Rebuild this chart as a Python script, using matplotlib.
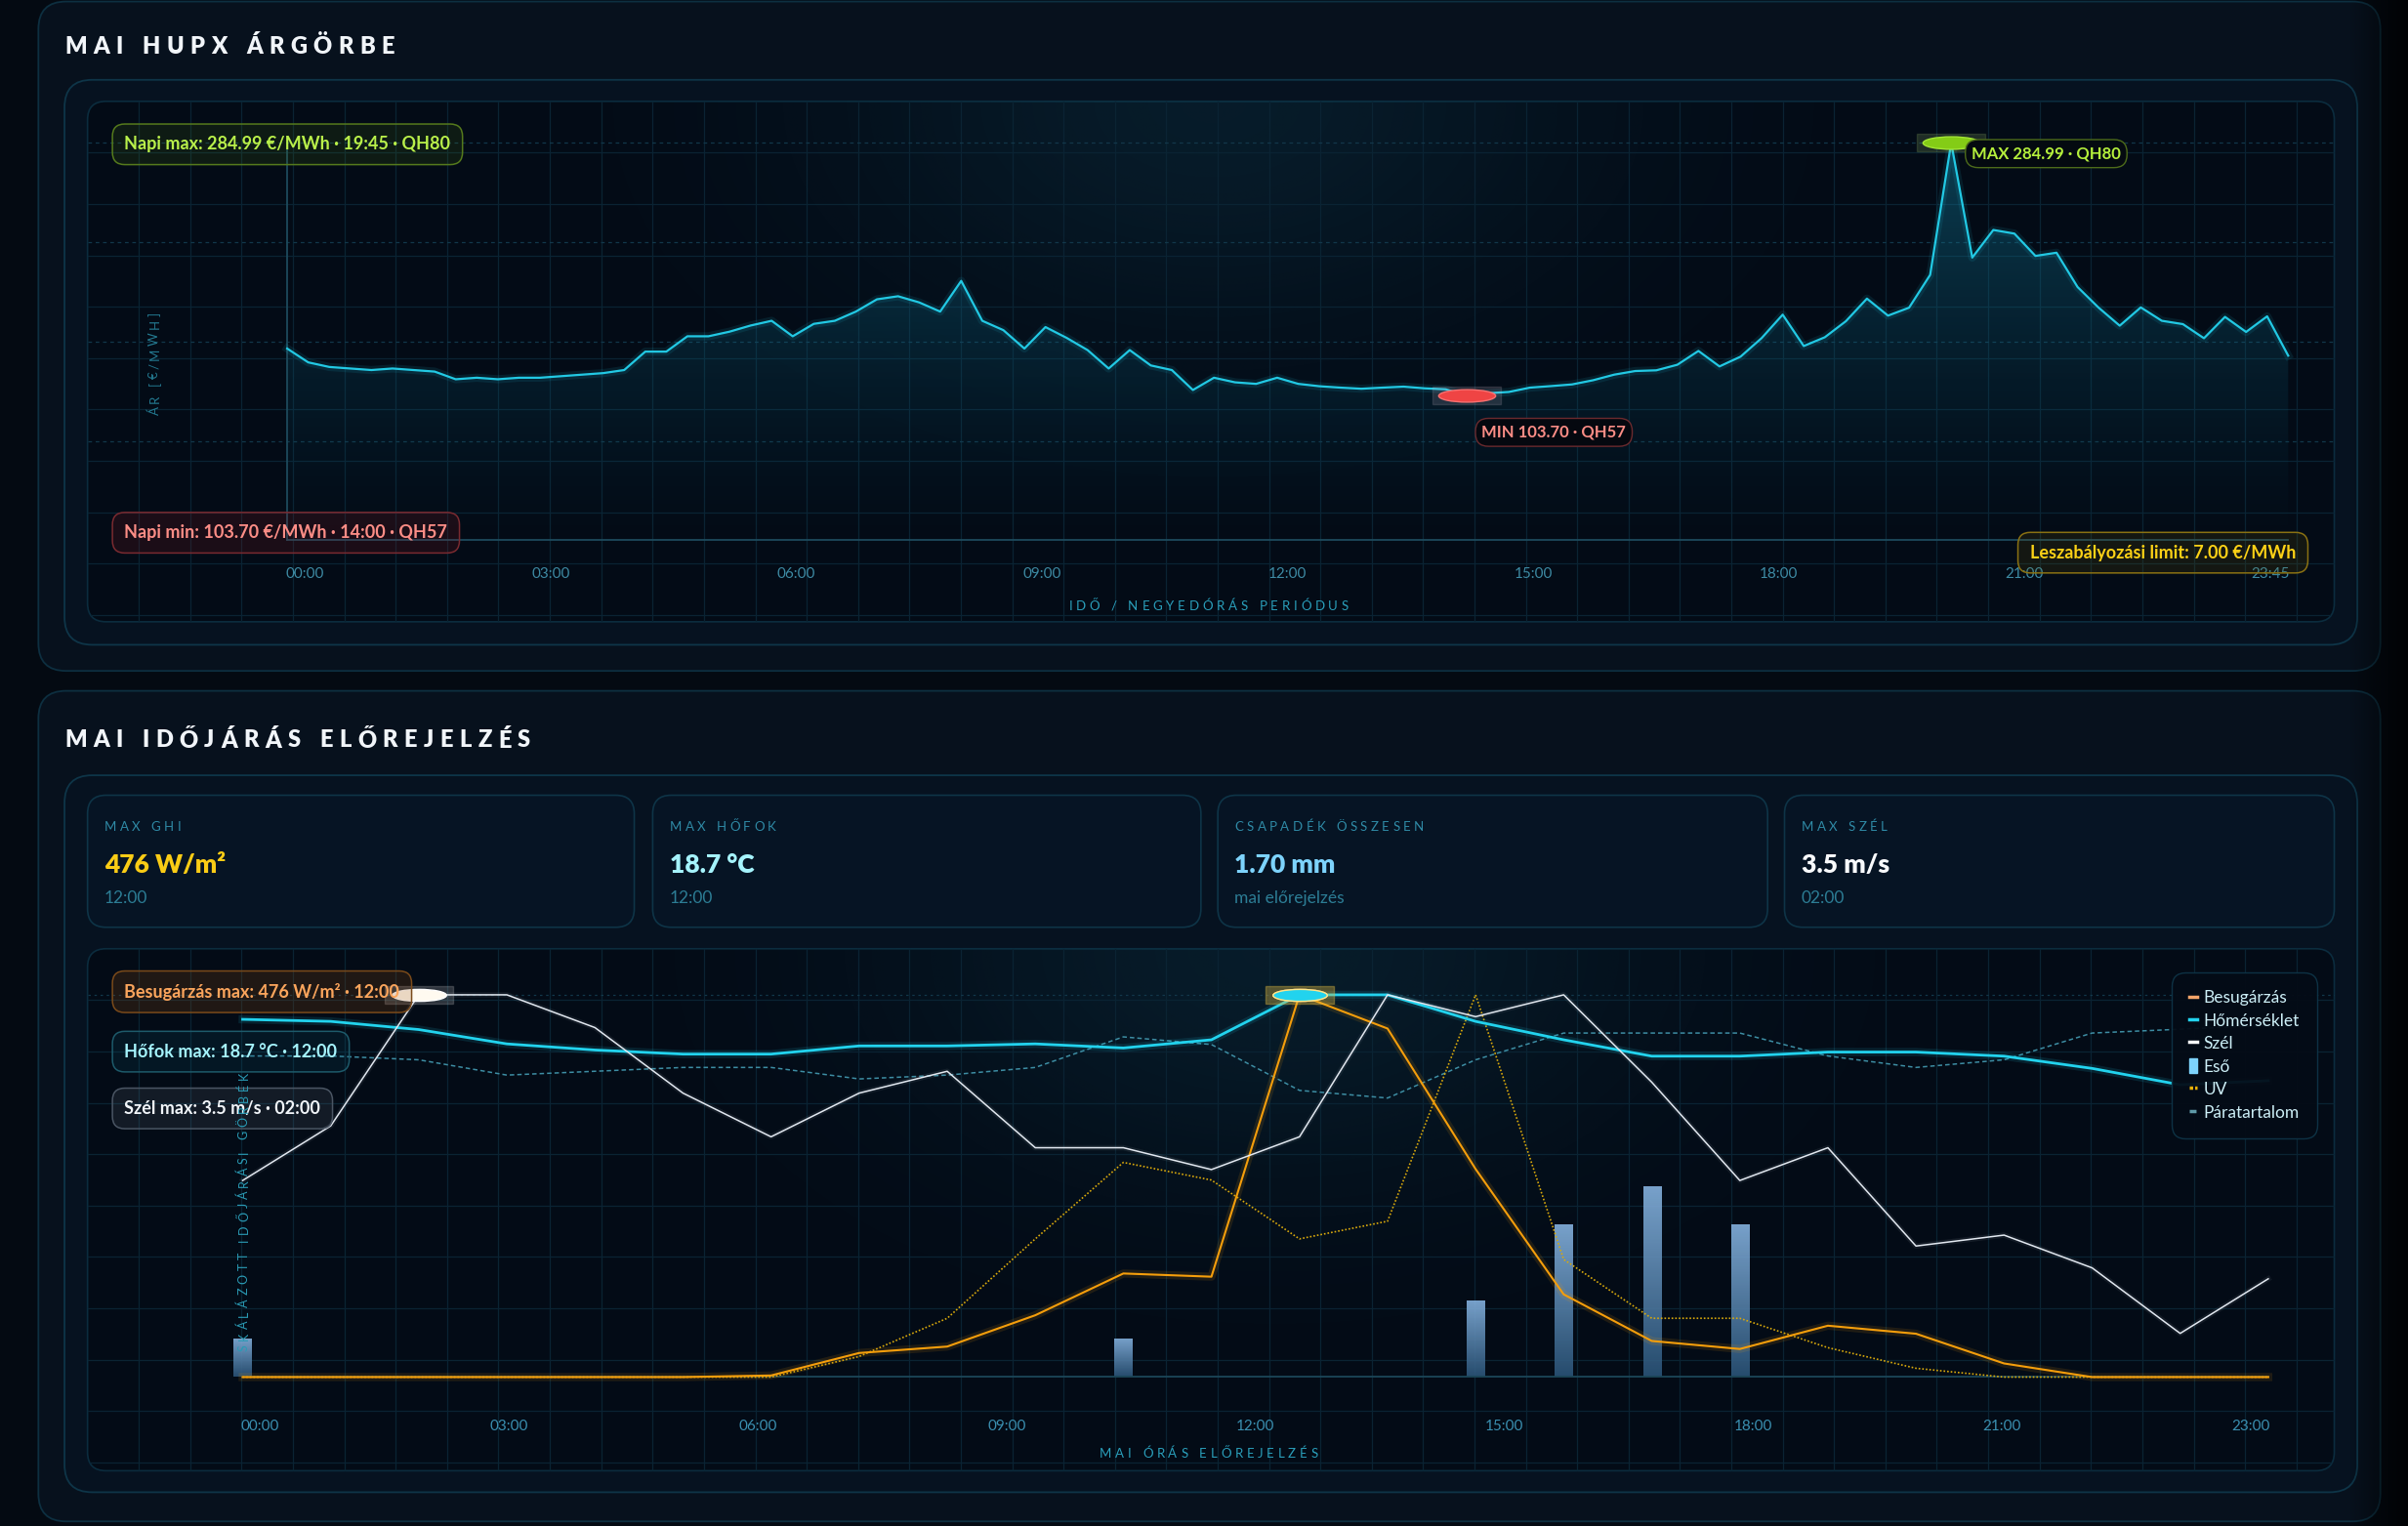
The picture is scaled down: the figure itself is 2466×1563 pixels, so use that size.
import matplotlib
matplotlib.use('Agg')
import matplotlib.pyplot as plt
import numpy as np
from matplotlib.patches import FancyBboxPatch, Patch
from matplotlib.path import Path
from matplotlib.lines import Line2D
from matplotlib.font_manager import FontProperties
from matplotlib.colors import LinearSegmentedColormap, to_rgb

FONT = ['Lato', 'DejaVu Sans']

# HUPX day-ahead price, 96 quarter hours (EUR/MWh)
price = [137.5, 127.6, 124.3, 123.2, 122.1, 123.2, 122.1, 121.0,
         115.5, 116.6, 115.5, 116.6, 116.6, 117.7, 118.8, 119.9,
         122.1, 135.3, 135.3, 146.3, 146.3, 149.6, 154.0, 157.4,
         146.3, 155.2, 157.4, 164.0, 172.8, 175.0, 170.6, 164.0,
         186.0, 157.4, 150.7, 137.5, 152.9, 145.2, 136.4, 123.2,
         136.4, 125.4, 122.1, 107.8, 116.6, 113.3, 112.2, 116.6,
         112.2, 110.5, 109.5, 108.7, 109.5, 110.2, 109.0, 108.3,
         103.70, 105.5, 106.4, 109.5, 110.6, 111.8, 114.8, 118.8,
         121.4, 121.9, 125.9, 135.8, 124.7, 131.7, 145.0, 161.8,
         139.3, 145.6, 157.1, 173.3, 161.1, 166.8, 190.3, 284.99,
         202.7, 222.5, 219.9, 203.9, 206.2, 181.6, 166.8, 153.9,
         167.0, 157.4, 155.0, 144.9, 160.2, 149.4, 160.6, 132.4]
price_ticks = ['00:00', '03:00', '06:00', '09:00', '12:00', '15:00', '18:00', '21:00', '23:45']
price_limit = 7.00

# hourly weather forecast
hours = list(range(24))
ghi = [0, 0, 0, 0, 0, 0, 2, 30, 38, 77, 129, 125, 476, 434, 259, 103, 45, 35, 64, 54, 17, 0, 0, 0]
temp = [17.5, 17.4, 17.0, 16.3, 16.0, 15.8, 15.8, 16.2, 16.2, 16.3, 16.1, 16.5,
        18.7, 18.7, 17.4, 16.5, 15.7, 15.7, 15.9, 15.9, 15.7, 15.1, 14.3, 14.5]
wind = [1.8, 2.3, 3.5, 3.5, 3.2, 2.6, 2.2, 2.6, 2.8, 2.1, 2.1, 1.9,
        2.2, 3.5, 3.3, 3.5, 2.7, 1.8, 2.1, 1.2, 1.3, 1.0, 0.4, 0.9]
rain = [0.1, 0, 0, 0, 0, 0, 0, 0, 0, 0, 0.1, 0, 0, 0, 0.2, 0.4, 0.5, 0.4, 0, 0, 0, 0, 0, 0]
uv = [0, 0, 0, 0, 0, 0, 0, 0.35, 1.0, 2.35, 3.65, 3.35, 2.35, 2.65, 6.5, 2.0, 1.0, 1.0, 0.5, 0.15, 0, 0, 0, 0]
humidity = [84, 84, 83, 79, 80, 81, 81, 78, 79, 81, 89, 87, 75, 73, 83, 90, 90, 90, 84, 81, 83, 90, 91, 92]
weather_ticks = ['00:00', '03:00', '06:00', '09:00', '12:00', '15:00', '18:00', '21:00', '23:00']
legend_labels = ['Besugárzás', 'Hőmérséklet', 'Szél', 'Eső', 'UV', 'Páratartalom']

W, H = 2466, 1563
S = W / 1568.0   # layout units = the 1568 px preview

plt.rcParams['font.family'] = FONT
fig = plt.figure(figsize=(W / 100, H / 100), dpi=100, facecolor='#040a12')

circ = Path.unit_circle()
ELLIPSE = Path(circ.vertices * [1, 0.22], circ.codes)
HALO = Path([[-1, -0.25], [1, -0.25], [1, 0.25], [-1, 0.25], [-1, -0.25]], closed=True)


def frac(x0, y0, x1, y1):
    return [x0 / 1568, 1 - y1 / 994, (x1 - x0) / 1568, (y1 - y0) / 994]


def overlay(z, label):
    ax = fig.add_axes([0, 0, 1, 1], zorder=z, label=label)
    ax.axis('off')
    ax.patch.set_alpha(0)
    return ax


def fix(ax):
    ax.set_xlim(0, 1568)
    ax.set_ylim(994, 0)


def rbox(ax, x0, y0, x1, y1, r, fc, ec, lw=1.0, z=1):
    p = FancyBboxPatch((x0, y0), x1 - x0, y1 - y0,
                       boxstyle='round,pad=0,rounding_size=%g' % r,
                       fc=fc, ec=ec, lw=lw, zorder=z)
    ax.add_patch(p)
    return p


def spaced(ax, x, y, s, size, color, gap, weight='normal', ha='left', rot=0, z=8):
    # letter-spaced text, one glyph at a time
    fp = FontProperties(family=FONT, size=size, weight=weight)
    rend = fig.canvas.get_renderer()
    adv = []
    for ch in s:
        if ch == ' ':
            w = 0.3 * size * 100 / 72
        else:
            w = rend.get_text_width_height_descent(ch, fp, ismath=False)[0]
        adv.append(w / S)
    total = sum(adv) + gap * (len(s) - 1)
    pos = -total / 2 if ha == 'center' else 0
    for ch, w in zip(s, adv):
        if rot == 0:
            ax.text(x + pos, y, ch, fontproperties=fp, color=color,
                    ha='left', va='center_baseline', zorder=z)
        else:
            ax.text(x, y - pos, ch, fontproperties=fp, color=color, rotation=90,
                    rotation_mode='anchor', ha='left', va='center_baseline', zorder=z)
        pos += w + gap


def chart_box(ax, x0, y0, x1, y1, cx):
    box = rbox(ax, x0, y0, x1, y1, 12, '#030b16', '#0b2c3e', 1.2, z=1)
    # soft glow at the top
    xx = np.linspace(x0, x1, 300)
    yy = np.linspace(y0, y1, 120)
    X, Y = np.meshgrid(xx, yy)
    img = np.zeros(X.shape + (4,))
    img[..., :3] = to_rgb('#1b6f8c')
    img[..., 3] = 0.17 * np.exp(-((X - cx) / 240) ** 2) * np.exp(-((Y - y0) / 150) ** 2)
    im = ax.imshow(img, extent=[x0, x1, y1, y0], origin='upper', aspect='auto',
                   zorder=1.5, interpolation='bilinear')
    im.set_clip_path(box)
    step = 33.45
    for x in np.arange(x0 + step, x1, step):
        ln, = ax.plot([x, x], [y0, y1], color='#0a2333', lw=0.9, zorder=2)
        ln.set_clip_path(box)
    for y in np.arange(y0 + step, y1, step):
        ln, = ax.plot([x0, x1], [y, y], color='#0a2333', lw=0.9, zorder=2)
        ln.set_clip_path(box)


def label_box(ax, x, y, s, color, fc, ec, ha='left', size=13):
    ax.text(x, y, s, color=color, fontsize=size, fontweight='bold', ha=ha, va='center',
            zorder=20,
            bbox=dict(boxstyle='round,pad=0.68,rounding_size=0.7', fc=fc, ec=ec, lw=1.1))


def qh_time(i):
    return '%02d:%02d' % (i * 15 // 60, i * 15 % 60)


def draw_frame(bg):
    # page and panels
    rbox(bg, 25, 1, 1550, 437, 18, '#07111d', '#0d2f40', 1.3, z=0.5)
    rbox(bg, 25, 450, 1550, 991, 18, '#07111d', '#0d2f40', 1.3, z=0.5)
    rbox(bg, 42, 52, 1535, 420, 18, '#061220', '#0e3548', 1.3, z=0.6)
    rbox(bg, 42, 505, 1535, 972, 18, '#061220', '#0e3548', 1.3, z=0.6)
    dark = np.zeros((2, 60, 4))
    dark[..., 3] = np.linspace(0, 0.75, 60)
    bg.imshow(dark, extent=[1530, 1568, 994, 0], aspect='auto', zorder=0.7)

    spaced(bg, 42, 29, 'MAI HUPX ÁRGÖRBE', 17, '#f1f5f9', 4.1, weight='heavy')
    spaced(bg, 42, 481, 'MAI IDŐJÁRÁS ELŐREJELZÉS', 17, '#f1f5f9', 4.1, weight='heavy')

    chart_box(bg, 57, 66, 1520, 405, 790)
    chart_box(bg, 57, 618, 1520, 958, 830)

    # KPI cards
    cards = [(57, 413), (425, 782), (793, 1151), (1162, 1520)]
    h_ghi = int(np.argmax(ghi))
    h_temp = int(np.argmax(temp))
    h_wind = int(np.argmax(wind))
    kpis = [('MAX GHI', '%d W/m²' % max(ghi), '#facc15', '%02d:00' % h_ghi),
            ('MAX HŐFOK', '%.1f °C' % max(temp), '#a5f3fc', '%02d:00' % h_temp),
            ('CSAPADÉK ÖSSZESEN', '%.2f mm' % sum(rain), '#7dd3fc', 'mai előrejelzés'),
            ('MAX SZÉL', '%.1f m/s' % max(wind), '#f8fafc', '%02d:00' % h_wind)]
    for (x0, x1), (lab, val, col, sub) in zip(cards, kpis):
        rbox(bg, x0, 518, x1, 604, 12, '#061424', '#0e3447', 1.2, z=1)
        spaced(bg, x0 + 11, 538, lab, 9.5, '#2f8aa6', 2.2)
        bg.text(x0 + 11, 562, val, color=col, fontsize=19, fontweight='heavy',
                va='center_baseline', zorder=8)
        bg.text(x0 + 11, 584, sub, color='#2c7d95', fontsize=12.5,
                va='center_baseline', zorder=8)


def plot_price(fg):
    n = len(price)
    idx = np.arange(n)
    i_max = int(np.argmax(price))
    i_min = int(np.argmin(price))
    p_max = price[i_max]
    p_min = price[i_min]

    ax = fig.add_axes(frac(57, 66, 1520, 405), zorder=3, label='price')
    ax.patch.set_alpha(0)

    # gradient fill under the curve
    poly = ax.fill_between(idx, price, 0, color='none', lw=0)
    cm = LinearSegmentedColormap.from_list(
        'fill', [(0.04, 0.3, 0.4, 0.0), (0.08, 0.5, 0.62, 0.45)])
    grad = np.linspace(1, 0, 200).reshape(-1, 1)
    im = ax.imshow(grad, cmap=cm, extent=[0, n - 1, 0, p_max], origin='upper',
                   aspect='auto', zorder=1, vmin=0, vmax=1)
    im.set_clip_path(poly.get_paths()[0], transform=ax.transData)

    ax.plot(idx, price, color='#22c9e4', lw=6, alpha=0.10, zorder=3)
    ax.plot(idx, price, color='#22c9e4', lw=1.6, zorder=4)

    # max / min markers
    ax.plot(i_max, p_max, marker=HALO, ms=50, color='#b5e37a', alpha=0.16, ls='none', zorder=5)
    ax.plot(i_max, p_max, marker=ELLIPSE, ms=42, color='#84cc16', mec='#a3e635',
            ls='none', zorder=6)
    ax.plot(i_min, p_min, marker=HALO, ms=50, color='#c8b8c8', alpha=0.16, ls='none', zorder=5)
    ax.plot(i_min, p_min, marker=ELLIPSE, ms=42, color='#ef4444', mec='#f87171',
            ls='none', zorder=6)
    ax.annotate('MAX %.2f · QH%d' % (p_max, i_max + 1), (i_max, p_max),
                xytext=(15, -8), textcoords='offset points', ha='left', va='center',
                color='#b5f03c', fontsize=12, fontweight='bold', zorder=9,
                bbox=dict(boxstyle='round,pad=0.38,rounding_size=0.8', fc='#040a10',
                          ec='#4d6b1a', lw=1))
    ax.annotate('MIN %.2f · QH%d' % (p_min, i_min + 1), (i_min, p_min),
                xytext=(11, -27), textcoords='offset points', ha='left', va='center',
                color='#fc8d86', fontsize=12, fontweight='bold', zorder=9,
                bbox=dict(boxstyle='round,pad=0.38,rounding_size=0.8', fc='#05080f',
                          ec='#6b2a2e', lw=1))

    # axes: first/last quarter hour at x=187/1490, 0 and max at y=352/93
    kx = (1490 - 187) / (n - 1)
    ky = (352 - 93) / p_max
    ax.set_xlim((57 - 187) / kx, (1520 - 187) / kx)
    ax.set_ylim(-(405 - 352) / ky, (352 - 66) / ky)
    ax.spines['top'].set_visible(False)
    ax.spines['right'].set_visible(False)
    ax.spines['left'].set_position(('data', 0))
    ax.spines['left'].set_bounds(0, p_max)
    ax.spines['bottom'].set_position(('data', 0))
    ax.spines['bottom'].set_bounds(0, n - 1)
    for s in ['left', 'bottom']:
        ax.spines[s].set_color('#1d4a5c')
        ax.spines[s].set_linewidth(1.3)
    ax.set_yticks(np.linspace(0, p_max, 5)[1:])
    ax.set_yticklabels([])
    ax.tick_params(axis='y', length=0)
    ax.grid(axis='y', color='#12374a', ls=(0, (3, 3)), lw=0.9)
    ax.set_axisbelow(True)
    ax.set_xticks(np.linspace(0.85, n - 1.85, len(price_ticks)))
    ax.set_xticklabels(price_ticks, color='#3d8aa3', fontsize=11)
    ax.tick_params(axis='x', length=0, pad=20)

    # labels
    spaced(fg, 100, 237, 'ÁR [€/MWH]', 9.5, '#23788f', 1.8, ha='center', rot=90)
    spaced(fg, 787, 394, 'IDŐ / NEGYEDÓRÁS PERIÓDUS', 9.5, '#2a9fbb', 2.4, ha='center')
    label_box(fg, 81, 94, 'Napi max: %.2f €/MWh · %s · QH%d' % (p_max, qh_time(i_max), i_max + 1),
              '#b9f04a', (0.35, 0.55, 0.05, 0.13), '#557a1c')
    label_box(fg, 81, 347, 'Napi min: %.2f €/MWh · %s · QH%d' % (p_min, qh_time(i_min), i_min + 1),
              '#fc8d86', (0.6, 0.1, 0.12, 0.16), '#7a2a30')
    label_box(fg, 1495, 360, 'Leszabályozási limit: %.2f €/MWh' % price_limit,
              '#fcd116', (0.5, 0.4, 0.0, 0.14), '#8a7112', ha='right')


def plot_weather(fg):
    h = np.array(hours)
    n_ghi = np.array(ghi) / max(ghi)
    n_temp = np.array(temp) / max(temp)
    n_wind = np.array(wind) / max(wind)
    n_uv = np.array(uv) / max(uv)
    n_hum = np.array(humidity) / 100.0
    n_rain = np.array(rain) / max(1.0, max(rain))

    ax = fig.add_axes(frac(57, 618, 1520, 958), zorder=3, label='weather')
    ax.patch.set_alpha(0)

    # rain bars with a vertical gradient
    bars = ax.bar(h, n_rain, width=0.2, color='none', lw=0, zorder=2)
    cm = LinearSegmentedColormap.from_list('rain', ['#2b5478', '#86b3e0'])
    grad = np.linspace(1, 0, 100).reshape(-1, 1)
    for b in bars:
        if b.get_height() <= 0:
            continue
        x0 = b.get_x()
        im = ax.imshow(grad, cmap=cm, extent=[x0, x0 + b.get_width(), 0, b.get_height()],
                       origin='upper', aspect='auto', zorder=2, alpha=0.9)
        im.set_clip_path(b)

    ax.plot(h, n_hum, color='#3d8da3', lw=1.1, ls=(0, (3, 2)), zorder=3)
    ax.plot(h, n_uv, color='#d9a90c', lw=1.2, ls=(0, (1, 1.2)), zorder=3)
    ax.plot(h, n_ghi, color='#f59e0b', lw=6, alpha=0.12, zorder=3)
    ax.plot(h, n_ghi, color='#f59e0b', lw=1.5, zorder=4)
    ax.plot(h, n_temp, color='#22d3ee', lw=6, alpha=0.12, zorder=3)
    ax.plot(h, n_temp, color='#22d3ee', lw=2.0, zorder=4)
    ax.plot(h, n_wind, color='#e2e8f0', lw=4, alpha=0.07, zorder=3)
    ax.plot(h, n_wind, color='#e2e8f0', lw=1.1, zorder=5)

    # max markers
    h_ghi = int(np.argmax(ghi))
    h_temp = int(np.argmax(temp))
    h_wind = int(np.argmax(wind))
    for hh, yy, col, edge, halo in [(h_ghi, n_ghi[h_ghi], '#f59e0b', '#fdba74', '#f59e0b'),
                                    (h_temp, n_temp[h_temp], '#22d3ee', '#fde68a', '#d9d36a'),
                                    (h_wind, n_wind[h_wind], '#fffaf0', '#ffffff', '#d8d8d8')]:
        ax.plot(hh, yy, marker=HALO, ms=50, color=halo, alpha=0.2, ls='none', zorder=6)
        ax.plot(hh, yy, marker=ELLIPSE, ms=40, color=col, mec=edge, ls='none', zorder=7)

    # axes: hour 0/23 at x=158/1477, 0 and 1 at y=897/648
    kx = (1477 - 158) / (len(hours) - 1)
    ky = 897 - 648
    ax.set_xlim((57 - 158) / kx, (1520 - 158) / kx)
    ax.set_ylim(-(958 - 897) / ky, (897 - 618) / ky)
    for s in ['top', 'right', 'left']:
        ax.spines[s].set_visible(False)
    ax.spines['bottom'].set_position(('data', 0))
    ax.spines['bottom'].set_bounds(0, len(hours) - 1)
    ax.spines['bottom'].set_color('#1b4658')
    ax.spines['bottom'].set_linewidth(1.3)
    ax.set_yticks([1.0])
    ax.set_yticklabels([])
    ax.tick_params(axis='y', length=0)
    ax.grid(axis='y', color='#12374a', ls=(0, (2, 3)), lw=0.9)
    ax.set_axisbelow(True)
    ax.set_xticks(np.linspace(0.2, len(hours) - 1.2, len(weather_ticks)))
    ax.set_xticklabels(weather_ticks, color='#3a8fb0', fontsize=11)
    ax.tick_params(axis='x', length=0, pad=31)

    # legend
    handles = [Line2D([], [], color='#f4a56a', lw=2.5),
               Line2D([], [], color='#22d3ee', lw=2.5),
               Line2D([], [], color='#f8fafc', lw=2.5),
               Patch(fc='#7dd3fc', ec='#7dd3fc'),
               Line2D([], [], color='#eab308', lw=2.5, ls=(0, (1, 0.6))),
               Line2D([], [], color='#5f9aa8', lw=2.5, ls=(0, (2, 0.8)))]
    leg = ax.legend(handles, legend_labels, loc='upper left',
                    bbox_to_anchor=(1412 / 1568, 1 - 631 / 994), bbox_transform=fig.transFigure,
                    prop=FontProperties(family=FONT, size=12.5), labelcolor='#cdeff7',
                    handlelength=0.45, handleheight=0.9, handletextpad=0.35,
                    labelspacing=0.42, borderpad=0.75, fancybox=True, framealpha=0.95,
                    facecolor='#040b16', edgecolor='#0e3447')
    leg.get_frame().set_boxstyle('round,pad=0.3,rounding_size=0.8')
    leg.set_zorder(20)

    # labels
    spaced(fg, 158, 789, 'SKÁLÁZOTT IDŐJÁRÁSI GÖRBÉK', 9, '#2a9bb5', 2.4, ha='center', rot=90, z=25)
    spaced(fg, 787, 946, 'MAI ÓRÁS ELŐREJELZÉS', 9.5, '#2a9fbb', 2.4, ha='center')
    label_box(fg, 81, 646, 'Besugárzás max: %d W/m² · %02d:00' % (max(ghi), h_ghi),
              '#fba55c', (0.6, 0.3, 0.05, 0.2), '#7a4a1a')
    label_box(fg, 81, 685, 'Hőfok max: %.1f °C · %02d:00' % (max(temp), h_temp),
              '#a5f3fc', (0.05, 0.4, 0.5, 0.14), '#1d5a6a')
    label_box(fg, 81, 722, 'Szél max: %.1f m/s · %02d:00' % (max(wind), h_wind),
              '#f1f5f9', (0.5, 0.55, 0.6, 0.13), '#4a5563')


def main():
    bg = overlay(0, 'bg')
    fg = overlay(10, 'fg')
    draw_frame(bg)
    plot_price(fg)
    plot_weather(fg)
    fix(bg)
    fix(fg)
    fig.savefig('out.png', dpi=100, facecolor=fig.get_facecolor())


if __name__ == '__main__':
    main()
